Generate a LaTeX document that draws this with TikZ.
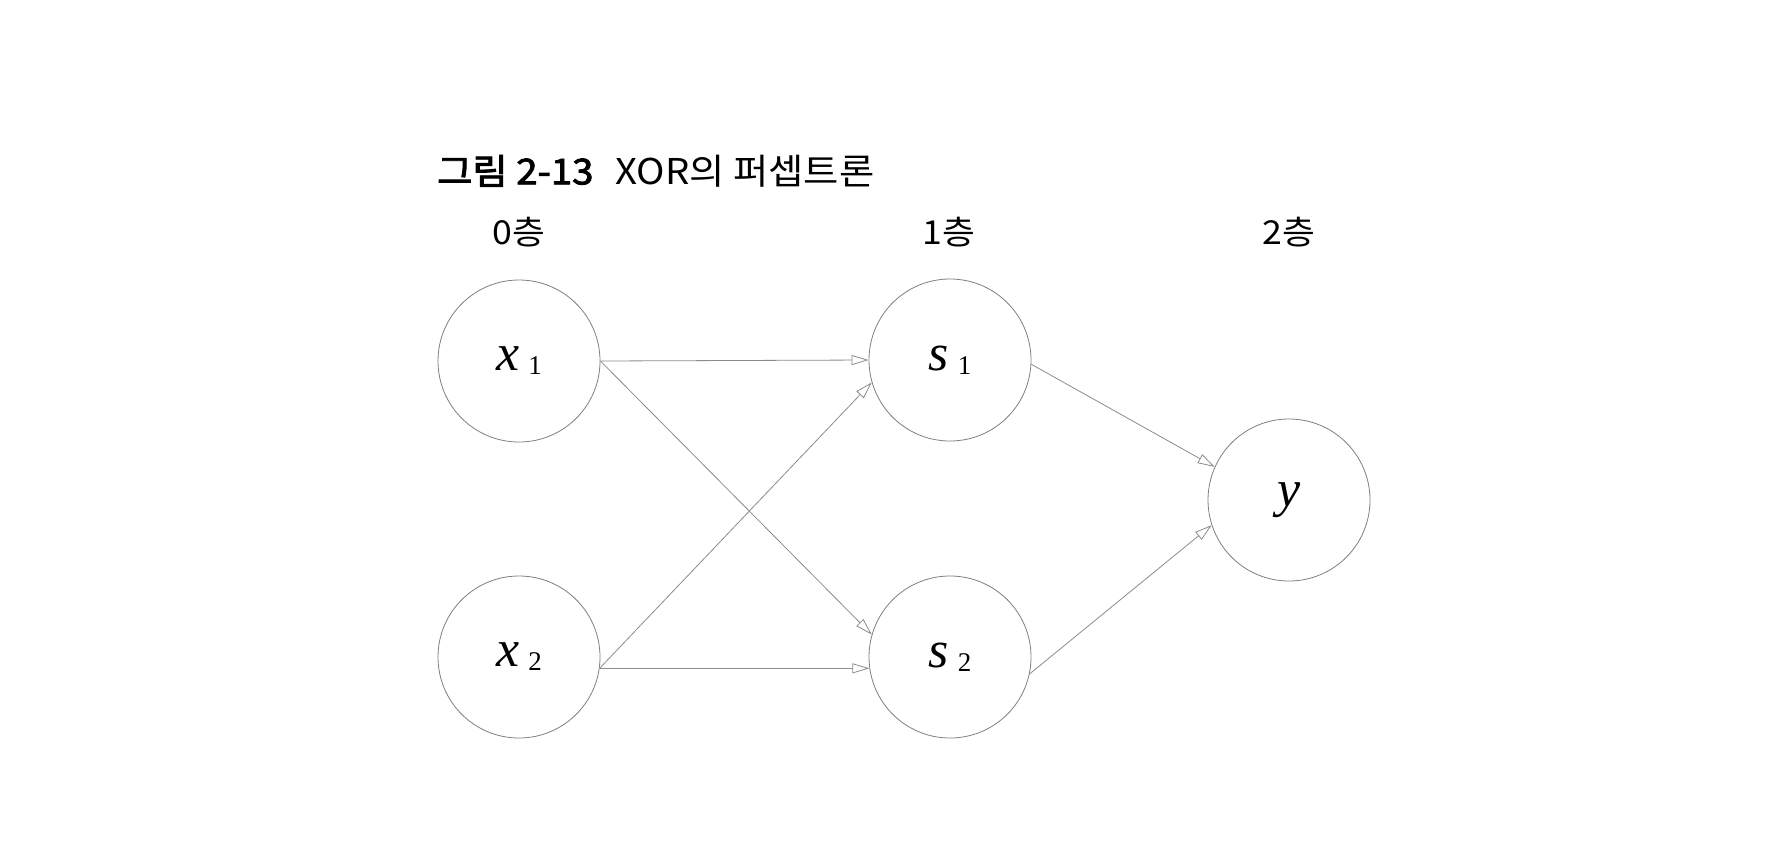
\documentclass[tikz,border=0pt]{standalone}
\usepackage{fontspec}
\setmainfont{Liberation Serif}
\newfontfamily\kr[FakeStretch=1.08]{Noto Sans CJK KR}
\newfontfamily\krb[FakeBold=2.5,FakeStretch=1.08]{Noto Sans CJK KR}
\usetikzlibrary{arrows.meta}
\newcommand{\lbl}[2]{{\fontsize{52}{52}\selectfont\itshape #1}\hspace{9pt}\raisebox{-4pt}{\fontsize{27}{27}\selectfont #2}}
\begin{document}
\begin{tikzpicture}[x=1pt,y=-1pt,
  neuron/.style={circle, draw=black!50, line width=0.8pt, minimum size=162pt, inner sep=0pt},
  conn/.style={draw=black!45, line width=0.8pt, -{Triangle[open, length=17pt, width=10pt]}},
  layer/.style={font=\kr\fontsize{33}{33}\selectfont}]
\useasboundingbox (0,0) rectangle (1776,846);
\fill[white] (0,0) rectangle (1776,846);
\node[anchor=west, inner sep=0pt, font=\fontsize{35.5}{35.5}\selectfont] (title) at (437,171)
  {{\krb 그림 2-13}\hspace{22pt}{\kr XOR의 퍼셉트론}};
\node[layer] (l0) at (519,232) {0층};
\node[layer] (l1) at (949,232) {1층};
\node[layer] (l2) at (1289,232) {2층};
\node[neuron] (x1) at (519,361) {\lbl{x}{1}};
\node[neuron] (x2) at (519,657) {\lbl{x}{2}};
\node[neuron] (s1) at (950,360) {\lbl{s}{1}};
\node[neuron] (s2) at (950,657) {\lbl{s}{2}};
\node[neuron] (y) at (1289,500) {{\fontsize{52}{52}\selectfont\itshape y}};
\draw[conn] (x1.east) -- (s1.west);
\draw[conn] (x1.east) -- (s2.164);
\draw[conn] (x2.-8) -- (s1.196);
\draw[conn] (x2.-8) -- (s2.188);
\draw[conn] (s1.-3) -- (y.156);
\draw[conn] (s2.-12) -- (y.198);
\end{tikzpicture}
\end{document}
